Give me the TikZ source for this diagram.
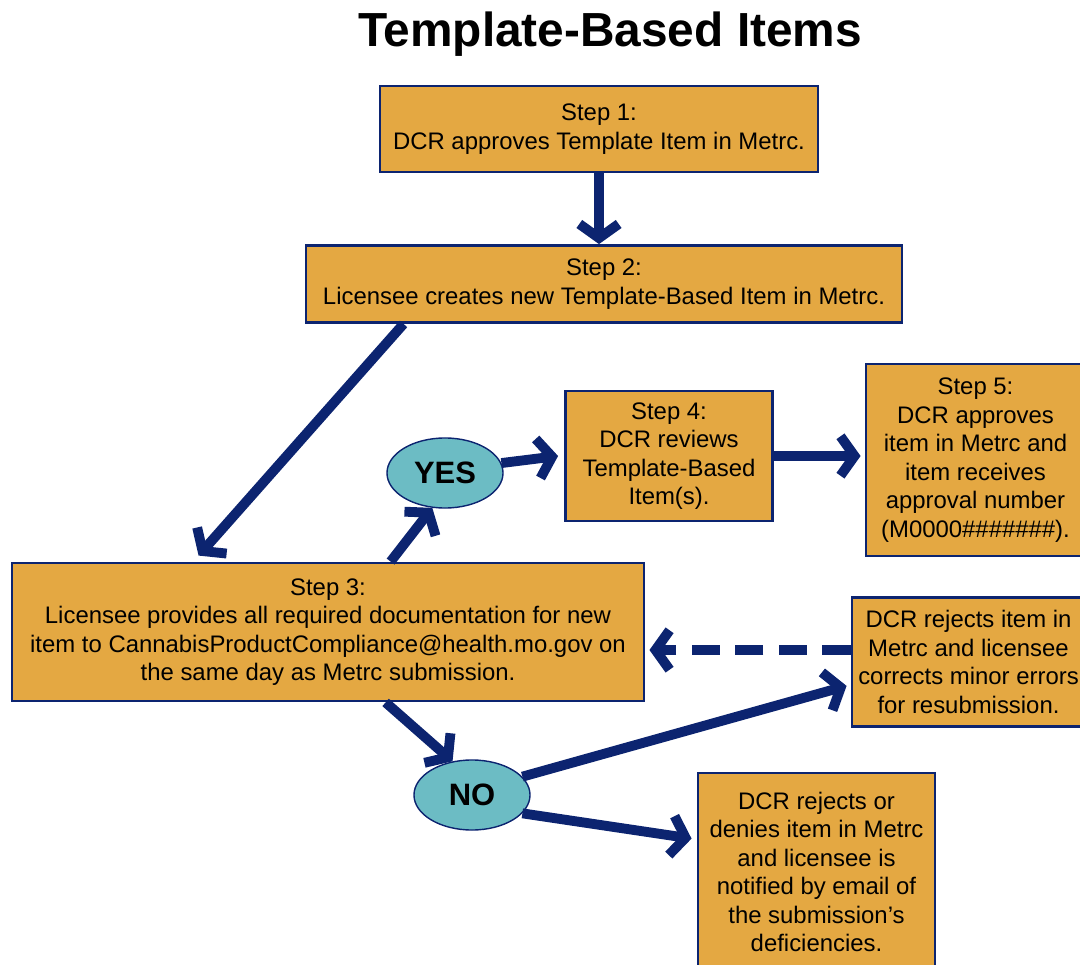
\documentclass[tikz,border=0pt]{standalone}
\usepackage{fontspec}
\setmainfont{Liberation Sans}
\usetikzlibrary{arrows.meta,shapes.geometric}
\definecolor{boxfill}{RGB}{228,168,66}
\definecolor{navy}{RGB}{12,36,112}
\definecolor{answerfill}{RGB}{108,188,196}
\tikzset{%
	stepbox/.style = {draw=navy, fill=boxfill, line width=2pt, rectangle, align=center, inner sep=2pt, font=\fontsize{17}{20.3}\selectfont},
	answer/.style  = {draw=navy, fill=answerfill, line width=1pt, ellipse, minimum width=2.9cm, minimum height=1.75cm, font=\fontsize{22}{24}\selectfont\bfseries},
	arrow/.style   = {navy, line width=7pt, -{Straight Barb[length=10pt,width=28pt]}},
}
\begin{document}
\begin{tikzpicture}[x=0.025cm,y=-0.025cm]
		\clip (0,0) rectangle (1080,965);
		\node[font=\fontsize{34}{38}\selectfont\bfseries] (title) at (610,34) {Template-Based Items};
		\node[stepbox, minimum width=10.95cm, minimum height=2.15cm] (step1) at (599,129) {Step 1:\\DCR approves Template Item in Metrc.};
		\node[stepbox, minimum width=14.9cm, minimum height=1.925cm] (step2) at (604,284) {Step 2:\\Licensee creates new Template-Based Item in Metrc.};
		\node[stepbox, minimum width=15.8cm, minimum height=3.45cm] (step3) at (328,632) {Step 3:\\Licensee provides all required documentation for new\\item to CannabisProductCompliance@health.mo.gov on\\the same day as Metrc submission.};
		\node[stepbox, minimum width=5.175cm, minimum height=3.25cm] (step4) at (669,456) {Step 4:\\DCR reviews\\Template-Based\\Item(s).};
		\node[stepbox, minimum width=5.475cm, minimum height=4.8cm] (step5) at (975.5,460) {Step 5:\\DCR approves\\item in Metrc and\\item receives\\approval number\\(M0000\#\#\#\#\#\#\#).};
		\node[stepbox, minimum width=5.825cm, minimum height=3.225cm] (rejmin) at (968.5,662) {DCR rejects item in\\Metrc and licensee\\corrects minor errors\\for resubmission.};
		\node[stepbox, minimum width=5.925cm, minimum height=4.95cm] (rejdeny) at (816.5,872) {DCR rejects or\\denies item in Metrc\\and licensee is\\notified by email of\\the submission’s\\deficiencies.};
		\node[answer] (yes) at (445,473) {YES};
		\node[answer] (no) at (472,795) {NO};
		
		\draw[arrow] (step1.south) -- (step1.south |- step2.north);
		\draw[arrow] ([xshift=2.475cm]step2.south west) -- ([xshift=4.7cm,yshift=0.15cm]step3.north west);
		\draw[arrow] ([xshift=9.5cm]step3.north west) -- (yes.250);
		\draw[arrow] (yes.10) -- ([xshift=-0.15cm]step4.west);
		\draw[arrow] (step4.east) -- ([xshift=-0.1cm]step4.east -| step5.west);
		\draw[arrow, dash pattern=on 20pt off 11pt] ([yshift=0.3cm]rejmin.west) -- ([xshift=0.1cm,yshift=0.3cm]rejmin.west -| step3.east);
		\draw[arrow] ([xshift=9.375cm]step3.south west) -- (no.120);
		\draw[arrow] (no.20) -- ([xshift=-0.1cm,yshift=1.05cm]rejmin.south west);
		\draw[arrow] (no.-20) -- ([xshift=-0.125cm,yshift=-1.675cm]rejdeny.north west);
		\end{tikzpicture}
\end{document}
